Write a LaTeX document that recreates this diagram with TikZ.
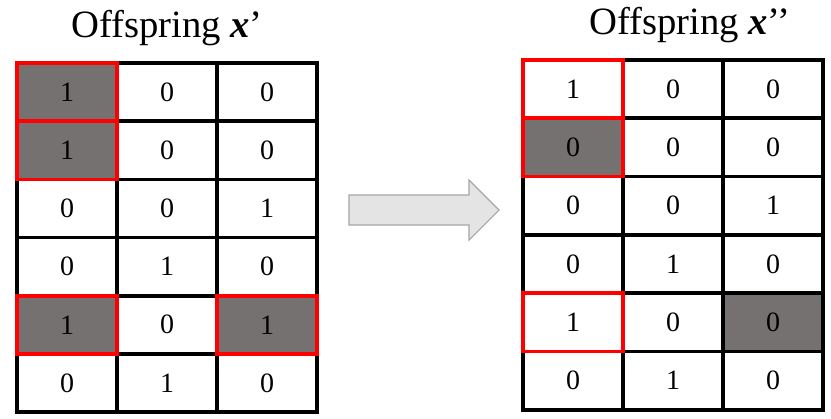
\documentclass[tikz,border=0pt]{standalone}
\usepackage{fontspec}
\setmainfont{Liberation Serif}
\usepackage{tikz}
\definecolor{cellgray}{HTML}{767171}
\definecolor{arrowgray}{HTML}{E4E4E4}

\begin{document}
\begin{tikzpicture}
	[x=0.75pt,y=-0.75pt,
		cell/.style={draw=black,line width=2.8pt,fill=white},
		marked/.style={draw=red,line width=2.8pt},
		digit/.style={font=\fontsize{21}{24}\selectfont},
		title/.style={font=\fontsize{29}{34}\selectfont}]

	\useasboundingbox (0,0) rectangle (831,418);

	% left grid
	\foreach \r in {0,...,5}
		\foreach \k in {0,1,2}
			\draw[cell] (17+\k*100,63+\r*58.2) rectangle ++(100,58.2);
	\foreach \r/\k in {0/0,1/0,4/0,4/2}
		\draw[marked,fill=cellgray] (17+\k*100,63+\r*58.2) rectangle ++(100,58.2);
	\foreach \r/\a/\b/\c in {0/1/0/0,1/1/0/0,2/0/0/1,3/0/1/0,4/1/0/1,5/0/1/0} {
		\node[digit] (la\r) at (67,92+\r*58.2) {\a};
		\node[digit] (lb\r) at (167,92+\r*58.2) {\b};
		\node[digit] (lc\r) at (267,92+\r*58.2) {\c};
	}

	% right grid
	\foreach \r in {0,...,5}
		\foreach \k in {0,1,2}
			\draw[cell] (523+\k*100,60+\r*58.3) rectangle ++(100,58.3);
	\draw[marked] (523,60) rectangle ++(100,58.3);
	\draw[marked] (523,60+4*58.3) rectangle ++(100,58.3);
	\draw[marked,fill=cellgray] (523,60+58.3) rectangle ++(100,58.3);
	\draw[cell,fill=cellgray] (723,60+4*58.3) rectangle ++(100,58.3);
	\foreach \r/\a/\b/\c in {0/1/0/0,1/0/0/0,2/0/0/1,3/0/1/0,4/1/0/0,5/0/1/0} {
		\node[digit] (ra\r) at (573,89+\r*58.3) {\a};
		\node[digit] (rb\r) at (673,89+\r*58.3) {\b};
		\node[digit] (rc\r) at (773,89+\r*58.3) {\c};
	}

	% titles
	\node[title] (tl) at (167,28) {Offspring \textbf{\textit{x}}’};
	\node[title] (tr) at (690,25) {Offspring \textbf{\textit{x}}’’};

	% arrow
	\draw[draw=gray!70,fill=arrowgray,line width=0.8pt]
		(349,195) -- (469,195) -- (469,180) -- (499,210) -- (469,240)
		-- (469,225) -- (349,225) -- cycle;

\end{tikzpicture}
\end{document}
